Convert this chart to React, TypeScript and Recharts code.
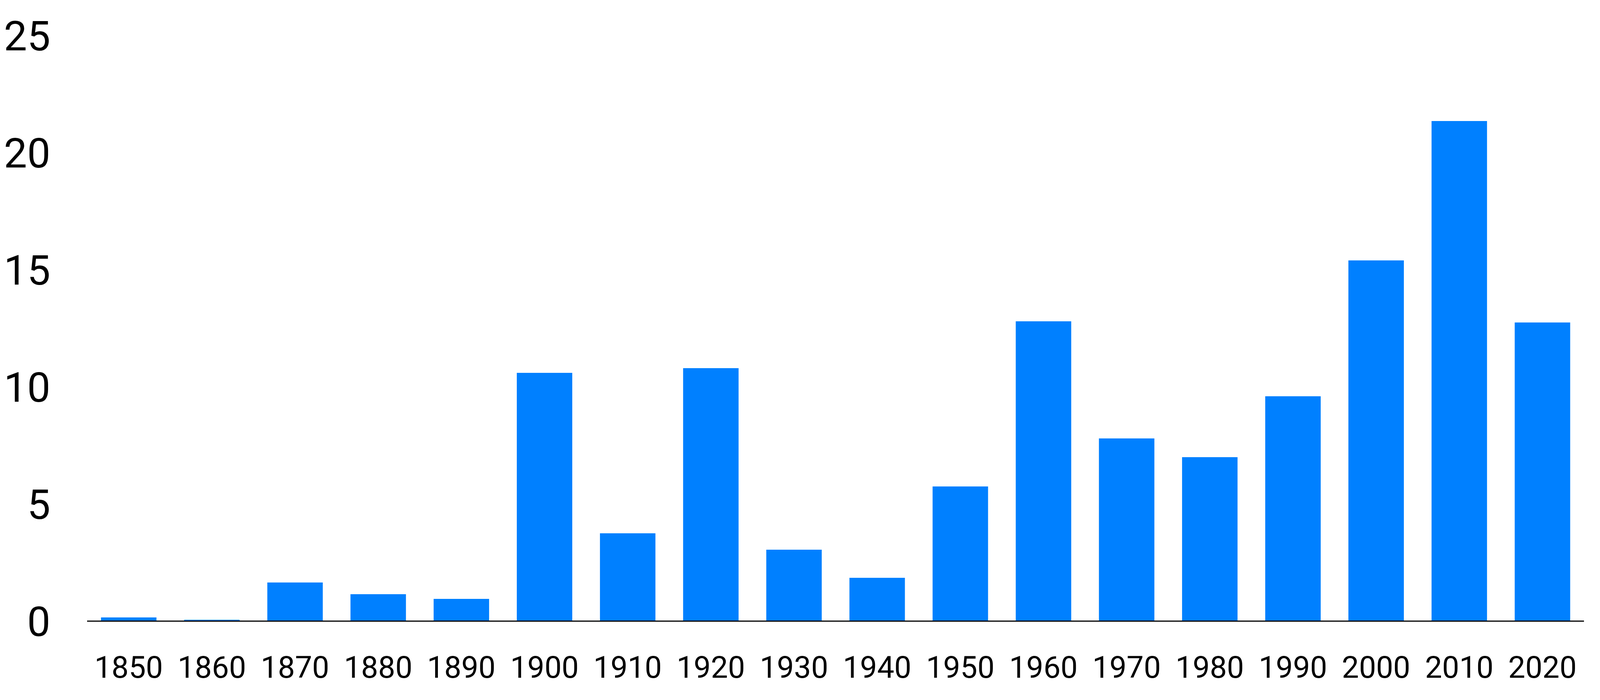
import React from 'react';
import { BarChart, Bar, XAxis, YAxis } from 'recharts';

const decades = [
  '1850', '1860', '1870', '1880', '1890', '1900', '1910', '1920', '1930',
  '1940', '1950', '1960', '1970', '1980', '1990', '2000', '2010', '2020',
];

const values = [
  0.16, 0.06, 1.65, 1.15, 0.95, 10.6, 3.75, 10.8, 3.05,
  1.85, 5.75, 12.8, 7.8, 7.0, 9.6, 15.4, 21.35, 12.75,
];

const yTicks = [0, 5, 10, 15, 20, 25];

const data = decades.map((decade, i) => ({ decade, value: values[i] }));

// the page is only 4096px wide, so the chart is laid out to fit it
const App: React.FC = () => {
  return (
    <div style={{ position: 'absolute', left: 0, top: 0, background: '#fff' }}>
      <BarChart
        width={4096}
        height={1793}
        data={data}
        margin={{ top: 91, right: 41, left: 0, bottom: 0 }}
        barCategoryGap="16.7%"
      >
        <XAxis
          dataKey="decade"
          height={202}
          tickLine={false}
          tickSize={0}
          tickMargin={90}
          axisLine={{ stroke: '#000', strokeWidth: 3 }}
          tick={{ fill: '#000', fontSize: 78, fontFamily: 'Roboto' }}
          interval={0}
        />
        <YAxis
          width={223}
          domain={[0, 25]}
          ticks={yTicks}
          axisLine={false}
          tickLine={false}
          tickSize={0}
          tickMargin={94}
          tick={{ fill: '#000', fontSize: 106, fontFamily: 'Roboto' }}
        />
        <Bar dataKey="value" fill="#0080ff" isAnimationActive={false} />
      </BarChart>
    </div>
  );
};

export default App;
